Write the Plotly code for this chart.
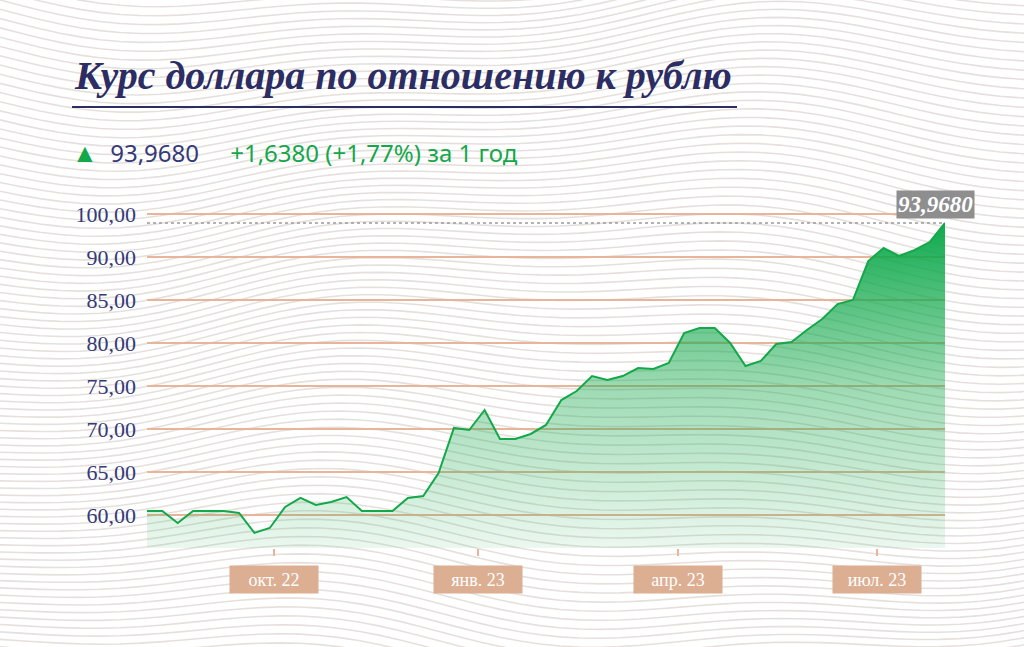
import plotly.graph_objects as go
import math

dates = ["2022-08-01","2022-08-08","2022-08-15","2022-08-22","2022-08-29","2022-09-05","2022-09-12","2022-09-19","2022-09-26",
"2022-10-03","2022-10-10","2022-10-17","2022-10-24","2022-10-31","2022-11-07","2022-11-14","2022-11-21","2022-11-28",
"2022-12-05","2022-12-12","2022-12-19","2022-12-26","2023-01-02","2023-01-09","2023-01-16","2023-01-23","2023-01-30",
"2023-02-06","2023-02-13","2023-02-20","2023-02-27","2023-03-06","2023-03-13","2023-03-20","2023-03-27","2023-04-03",
"2023-04-10","2023-04-17","2023-04-24","2023-05-01","2023-05-08","2023-05-15","2023-05-22","2023-05-29","2023-06-05",
"2023-06-12","2023-06-19","2023-06-26","2023-07-03","2023-07-10","2023-07-17","2023-07-24","2023-07-31"]
rates = [60.47,60.47,59.07,60.47,60.47,60.47,60.23,57.91,58.49,60.93,61.98,61.16,61.51,62.09,60.47,60.47,60.47,61.98,
62.21,64.88,70.12,69.88,72.21,68.84,68.84,69.42,70.47,73.37,74.42,76.16,75.70,76.16,77.09,76.98,77.67,81.16,81.74,
81.74,80.00,77.33,77.91,79.88,80.12,81.51,82.79,84.53,85.00,89.53,91.05,90.12,90.81,91.74,93.968]
y_tickvals = [60, 65, 70, 75, 80, 85, 90, 95]
y_ticktext = ["60,00","65,00","70,00","75,00","80,00","85,00","90,00","100,00"]
x_tickvals = ["2022-09-28","2022-12-30","2023-03-31","2023-06-30"]
x_ticktext = ["окт. 22","янв. 23","апр. 23","июл. 23"]
last_label = "93,9680"

NAVY = "#343a78"
GREEN = "#13a84a"
GRID = "#e8b49a"
TAN = "#dcae92"
SERIF = "Liberation Serif"

W, H = 1024, 647
L, R, T, B = 147, 79, 205, 99
pw, ph = W - L - R, H - T - B

def px2paper(x, y):
    return (x - L) / pw, (H - B - y) / ph

fig = go.Figure()

fig.add_trace(go.Scatter(
    x=dates, y=rates, mode="lines", line=dict(color=GREEN, width=2),
    fill="tozeroy",
    fillgradient=dict(type="vertical", start=56, stop=94,
                      colorscale=[[0, "rgba(20,168,74,0.08)"], [0.5, "rgba(20,168,74,0.42)"], [1, "rgba(10,168,74,0.98)"]]),
    hoverinfo="skip", showlegend=False))

fig.add_trace(go.Scatter(x=[dates[0], dates[-1]], y=[rates[-1], rates[-1]], mode="lines",
                         line=dict(color="#9a9a9a", width=1.5, dash="dot"), hoverinfo="skip", showlegend=False))

annotations = []
for v, t in zip(x_tickvals, x_ticktext):
    annotations.append(dict(x=v, y=-0.135, xref="x", yref="paper", text=t, showarrow=False,
                            font=dict(family=SERIF, size=18, color="white"), bgcolor=TAN,
                            width=86, height=25, borderpad=1))
annotations.append(dict(x=dates[-1], y=rates[-1], xref="x", yref="y", yshift=18, xanchor="right", xshift=30,
                        text="<b><i>" + last_label + "</i></b>", showarrow=False,
                        font=dict(family=SERIF, size=23, color="white"), bgcolor="#8e8e8e", borderpad=1))
tx, ty = px2paper(72, 75)
annotations.append(dict(x=tx, y=ty, xref="paper", yref="paper", xanchor="left", yanchor="middle",
                        text="<b><i>Курс доллара по отношению к рублю</i></b>", showarrow=False,
                        font=dict(family=SERIF, size=40, color="#2b2d63")))
sx, sy = px2paper(70, 152)
annotations.append(dict(x=sx, y=sy, xref="paper", yref="paper", xanchor="left", yanchor="middle",
                        text="<span style='font-size:26px'>▲</span>  <span style='color:#343a78'>" + last_label
                             + "</span>     +1,6380 (+1,77%) за 1 год",
                        showarrow=False, font=dict(family="Noto Sans", size=24, color=GREEN)))

wave_shapes = []
for k in range(-12, 90):
    y0 = k * 8.2
    pts = []
    for i in range(0, 53):
        px = i * 20
        py = y0 + 22 * math.sin(px / 180.0 + k * 0.05) + 10 * math.sin(px / 70.0)
        pts.append(px2paper(px, py))
    path = "M " + " L ".join(f"{a:.4f},{b:.4f}" for a, b in pts)
    wave_shapes.append(dict(type="path", path=path, xref="paper", yref="paper", layer="below",
                            line=dict(color="#e6e0dd", width=1.6)))
lx0, ly = px2paper(72, 107)
lx1, _ = px2paper(737, 107)
title_line = dict(type="line", xref="paper", yref="paper", x0=lx0, x1=lx1, y0=ly, y1=ly,
                  line=dict(color="#2b2d63", width=2))

fig.update_layout(
    width=W, height=H, margin=dict(l=L, r=R, t=T, b=B),
    paper_bgcolor="white", plot_bgcolor="rgba(0,0,0,0)",
    shapes=wave_shapes + [title_line], annotations=annotations,
    xaxis=dict(range=[dates[0], dates[-1]], tickvals=x_tickvals, ticktext=["", "", "", ""], showgrid=False,
               ticks="outside", ticklen=7, tickcolor=GRID, tickwidth=1.5, showline=False, zeroline=False),
    yaxis=dict(range=[56.16, 96.05], tickvals=y_tickvals, ticktext=y_ticktext, gridcolor=GRID, gridwidth=1.5,
               tickfont=dict(family=SERIF, size=22, color=NAVY), ticks="", zeroline=False, ticklabelstandoff=10),
)
fig.write_html("out.html", config={"displayModeBar": False},
               post_script="document.body.style.margin='0';document.body.style.padding='0';")
